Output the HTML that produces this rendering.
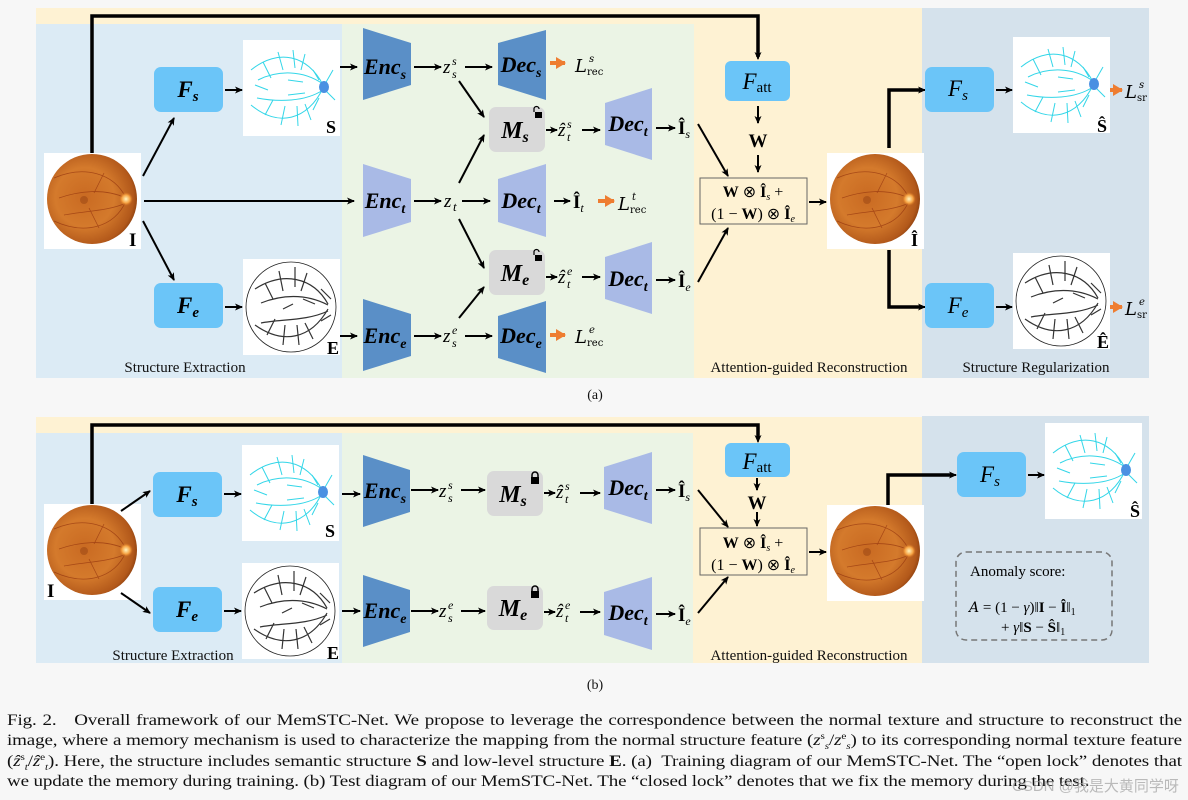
<!DOCTYPE html>
<html><head><meta charset="utf-8">
<style>
html,body{margin:0;padding:0;background:#f7f7f7;}
body{width:1188px;height:800px;overflow:hidden;position:relative;}
svg{position:absolute;left:0;top:0;}
.cap{position:absolute;left:7px;top:711px;width:946px;transform:scale(1.242,1);transform-origin:0 0;font-family:"Liberation Serif",serif;font-size:15.3px;line-height:20.3px;text-align:justify;text-align-last:left;color:#111;letter-spacing:-0.1px;}
.cap sup,.cap sub{font-size:9px;line-height:0;}
.wm{position:absolute;left:1012px;top:775px;font-family:"Liberation Sans","Noto Sans CJK SC",sans-serif;font-size:15px;color:rgba(160,160,160,0.7);}
</style></head><body>
<svg width="1188" height="800" viewBox="0 0 1188 800" font-family="Liberation Serif, serif">
<defs>
<marker id="ah" markerWidth="8" markerHeight="8" refX="7" refY="4" orient="auto" markerUnits="userSpaceOnUse"><path d="M0,0.5 L8,4 L0,7.5 L2,4 Z" fill="#000"/></marker>
<marker id="ao" markerWidth="10" markerHeight="12" refX="9" refY="6" orient="auto" markerUnits="userSpaceOnUse"><path d="M0,0 L10,6 L0,12 Z" fill="#ee7d31"/></marker>
<radialGradient id="fg" cx="0.42" cy="0.48" r="0.6">
<stop offset="0" stop-color="#c96a22"/><stop offset="0.55" stop-color="#d47a2c"/><stop offset="0.9" stop-color="#b2581a"/><stop offset="1" stop-color="#8a3e0e"/></radialGradient>
<radialGradient id="od" cx="0.5" cy="0.5" r="0.5"><stop offset="0" stop-color="#fff6c0"/><stop offset="0.6" stop-color="#f5a040"/><stop offset="1" stop-color="#d07020" stop-opacity="0"/></radialGradient>
<g id="fundus">
<rect x="0" y="0" width="97" height="96" fill="#fff"/>
<circle cx="48" cy="46" r="45" fill="url(#fg)"/>
<g stroke="#8a2a0a" stroke-width="0.8" fill="none" opacity="0.6">
<path d="M82,45 C70,20 40,12 10,25"/><path d="M82,48 C70,75 40,82 10,68"/><path d="M82,45 C60,35 35,38 15,45"/><path d="M82,50 C65,58 40,58 20,62"/><path d="M60,20 L50,40"/><path d="M55,75 L45,55"/></g>
<circle cx="40" cy="47" r="4" fill="#8a3a10" opacity="0.4"/>
<circle cx="82" cy="46" r="7" fill="url(#od)"/>
</g>
<g id="vess">
<rect x="0" y="0" width="97" height="96" fill="#fff"/>
<g stroke="#33d6e8" stroke-width="1" fill="none">
<path d="M80,45 C65,15 35,8 8,30"/><path d="M80,48 C65,80 35,88 8,65"/><path d="M80,44 C60,30 35,30 15,40"/><path d="M80,50 C62,62 35,62 14,58"/>
<path d="M20,22 L28,38 M35,12 L40,30 M50,10 L52,28 M62,14 L58,30 M22,75 L30,60 M38,85 L42,66 M55,86 L54,66 M68,80 L62,64 M12,45 L25,50 M45,40 L60,42 M45,55 L62,53 M90,30 L82,44 M92,60 L82,50 M70,30 L76,40 M70,70 L76,58"/>
</g>
<ellipse cx="81" cy="47" rx="5" ry="6" fill="#4a90e2"/>
</g>
<g id="edge">
<rect x="0" y="0" width="97" height="96" fill="#fff"/>
<circle cx="48" cy="48" r="45" fill="none" stroke="#222" stroke-width="0.8"/>
<g stroke="#333" stroke-width="1.2" fill="none">
<path d="M85,45 C70,18 40,12 12,30"/><path d="M85,50 C68,80 40,86 12,66"/><path d="M85,46 C62,34 38,36 18,44"/><path d="M85,52 C64,62 38,60 18,64"/>
<path d="M22,24 L30,40 M36,12 L40,32 M52,8 L52,28 M64,14 L58,32 M24,76 L32,60 M40,86 L42,66 M56,86 L54,66 M70,80 L62,64 M40,50 L50,45 M60,40 L72,45 M78,30 L88,40 M78,62 L88,56"/></g>
</g>
</defs>

<rect x="36" y="8" width="886" height="370" fill="#fef2d3"/>
<rect x="36" y="24" width="306" height="354" fill="#dcebf5"/>
<rect x="342" y="24" width="352" height="354" fill="#ebf4e5"/>
<rect x="922" y="8" width="227" height="370" fill="#d5e2ec"/>

<polyline points="92,153 92,16 758,16 758,57" fill="none" stroke="#000" stroke-width="3.5"/>
<line x1="758" y1="50" x2="758" y2="59" stroke="#000" stroke-width="1.5" marker-end="url(#ah)"/>

<use href="#fundus" x="44" y="153"/>
<text x="129" y="246" font-size="19" font-weight="bold">I</text>

<rect x="154" y="67" width="69" height="45" rx="7" fill="#6bc5f8"/>
<text x="188" y="97" font-size="23" font-weight="bold" font-style="italic" text-anchor="middle">F<tspan font-size="15" dy="4">s</tspan></text>
<rect x="154" y="283" width="69" height="45" rx="7" fill="#6bc5f8"/>
<text x="188" y="313" font-size="23" font-weight="bold" font-style="italic" text-anchor="middle">F<tspan font-size="15" dy="4">e</tspan></text>

<use href="#vess" x="243" y="40"/>
<text x="326" y="133" font-size="18" font-weight="bold">S</text>
<use href="#edge" x="243" y="259"/>
<text x="327" y="354" font-size="18" font-weight="bold">E</text>

<g stroke="#000" stroke-width="2" fill="none">
<line x1="225" y1="90" x2="242" y2="90" marker-end="url(#ah)"/>
<line x1="225" y1="307" x2="242" y2="307" marker-end="url(#ah)"/>
<line x1="143" y1="176" x2="174" y2="118" marker-end="url(#ah)"/>
<line x1="143" y1="221" x2="174" y2="280" marker-end="url(#ah)"/>
<line x1="144" y1="201" x2="354" y2="201" marker-end="url(#ah)"/>
<line x1="340" y1="67" x2="357" y2="67" marker-end="url(#ah)"/>
<line x1="340" y1="336" x2="357" y2="336" marker-end="url(#ah)"/>
</g>

<polygon points="363,28 411,43 411,85 363,100" fill="#5a8fc7"/>
<polygon points="363,164 411,179 411,222 363,237" fill="#a9bae6"/>
<polygon points="363,299 411,314 411,356 363,371" fill="#5a8fc7"/>
<g font-size="22" font-weight="bold" font-style="italic" text-anchor="middle">
<text x="385" y="74">Enc<tspan font-size="14" dy="5">s</tspan></text>
<text x="385" y="208">Enc<tspan font-size="14" dy="5">t</tspan></text>
<text x="385" y="343">Enc<tspan font-size="14" dy="5">e</tspan></text>
</g>
<polygon points="498,43 546,30 546,100 498,85" fill="#5a8fc7"/>
<polygon points="498,179 546,164 546,237 498,222" fill="#a9bae6"/>
<polygon points="498,316 546,301 546,373 498,358" fill="#5a8fc7"/>
<polygon points="605,103 652,88 652,160 605,145" fill="#a9bae6"/>
<polygon points="605,257 652,242 652,314 605,299" fill="#a9bae6"/>
<g font-size="22" font-weight="bold" font-style="italic" text-anchor="middle">
<text x="521" y="72">Dec<tspan font-size="14" dy="5">s</tspan></text>
<text x="521" y="208">Dec<tspan font-size="14" dy="5">t</tspan></text>
<text x="521" y="343">Dec<tspan font-size="14" dy="5">e</tspan></text>
<text x="628" y="131">Dec<tspan font-size="14" dy="5">t</tspan></text>
<text x="628" y="286">Dec<tspan font-size="14" dy="5">t</tspan></text>
</g>
<rect x="489" y="107" width="56" height="45" rx="7" fill="#d9d9d9"/>
<rect x="489" y="250" width="56" height="45" rx="7" fill="#d9d9d9"/>
<g font-size="24" font-weight="bold" font-style="italic" text-anchor="middle">
<text x="515" y="138">M<tspan font-size="16" dy="4">s</tspan></text>
<text x="515" y="281">M<tspan font-size="16" dy="4">e</tspan></text>
</g>
<g fill="#000"><rect x="535" y="112" width="7" height="6"/><path d="M534,112 v-3 a2.5,2.5 0 0 1 5,0" fill="none" stroke="#000" stroke-width="1.2"/>
<rect x="535" y="255" width="7" height="6"/><path d="M534,255 v-3 a2.5,2.5 0 0 1 5,0" fill="none" stroke="#000" stroke-width="1.2"/></g>

<g font-style="italic">
<text x="443" y="73" font-size="19">z</text><text x="452" y="65" font-size="12">s</text><text x="452" y="78" font-size="12">s</text>
<text x="444" y="207" font-size="19">z</text><text x="453" y="211" font-size="13">t</text>
<text x="443" y="342" font-size="19">z</text><text x="452" y="334" font-size="12">e</text><text x="452" y="347" font-size="12">s</text>
<text x="558" y="136" font-size="19">ẑ</text><text x="567" y="128" font-size="12">s</text><text x="567" y="141" font-size="12">t</text>
<text x="558" y="283" font-size="19">ẑ</text><text x="567" y="275" font-size="12">e</text><text x="567" y="288" font-size="12">t</text>
</g>
<g stroke="#000" stroke-width="2" fill="none">
<line x1="414" y1="67" x2="441" y2="67" marker-end="url(#ah)"/>
<line x1="465" y1="67" x2="492" y2="67" marker-end="url(#ah)"/>
<line x1="414" y1="201" x2="441" y2="201" marker-end="url(#ah)"/>
<line x1="462" y1="201" x2="490" y2="201" marker-end="url(#ah)"/>
<line x1="414" y1="336" x2="441" y2="336" marker-end="url(#ah)"/>
<line x1="465" y1="336" x2="492" y2="336" marker-end="url(#ah)"/>
<line x1="459" y1="81" x2="484" y2="117" marker-end="url(#ah)"/>
<line x1="459" y1="183" x2="484" y2="135" marker-end="url(#ah)"/>
<line x1="459" y1="219" x2="484" y2="268" marker-end="url(#ah)"/>
<line x1="459" y1="318" x2="484" y2="287" marker-end="url(#ah)"/>
<line x1="546" y1="130" x2="557" y2="130" marker-end="url(#ah)"/>
<line x1="582" y1="130" x2="600" y2="130" marker-end="url(#ah)"/>
<line x1="546" y1="277" x2="557" y2="277" marker-end="url(#ah)"/>
<line x1="582" y1="277" x2="600" y2="277" marker-end="url(#ah)"/>
<line x1="554" y1="201" x2="570" y2="201" marker-end="url(#ah)"/>
<line x1="656" y1="128" x2="675" y2="128" marker-end="url(#ah)"/>
<line x1="656" y1="280" x2="675" y2="280" marker-end="url(#ah)"/>
<line x1="698" y1="124" x2="728" y2="176" marker-end="url(#ah)"/>
<line x1="698" y1="282" x2="728" y2="228" marker-end="url(#ah)"/>
<line x1="758" y1="106" x2="758" y2="123" marker-end="url(#ah)"/>
<line x1="758" y1="155" x2="758" y2="172" marker-end="url(#ah)"/>
<line x1="809" y1="202" x2="826" y2="202" marker-end="url(#ah)"/>
<line x1="996" y1="90" x2="1012" y2="90" marker-end="url(#ah)"/>
<line x1="996" y1="307" x2="1012" y2="307" marker-end="url(#ah)"/>
</g>
<g stroke="#ee7d31" stroke-width="4">
<line x1="550" y1="63" x2="565" y2="63" marker-end="url(#ao)"/>
<line x1="550" y1="335" x2="565" y2="335" marker-end="url(#ao)"/>
<line x1="598" y1="201" x2="614" y2="201" marker-end="url(#ao)"/>
<line x1="1109" y1="90" x2="1122" y2="90" marker-end="url(#ao)"/>
<line x1="1109" y1="307" x2="1122" y2="307" marker-end="url(#ao)"/>
</g>
<g font-family="DejaVu Serif, serif" font-style="italic">
<text x="575" y="72" font-size="18">L</text><text x="589" y="62" font-size="10">s</text><text x="587" y="75" font-size="10" font-style="normal">rec</text>
<text x="575" y="343" font-size="18">L</text><text x="589" y="333" font-size="10">e</text><text x="587" y="346" font-size="10" font-style="normal">rec</text>
<text x="618" y="210" font-size="18">L</text><text x="632" y="200" font-size="10">t</text><text x="630" y="213" font-size="10" font-style="normal">rec</text>
<text x="1125" y="98" font-size="18">L</text><text x="1139" y="88" font-size="10">s</text><text x="1137" y="101" font-size="10" font-style="normal">sr</text>
<text x="1125" y="315" font-size="18">L</text><text x="1139" y="305" font-size="10">e</text><text x="1137" y="318" font-size="10" font-style="normal">sr</text>
</g>
<g font-size="19" font-weight="bold">
<text x="573" y="208">Î<tspan font-size="12" font-weight="normal" font-style="italic" dy="4">t</tspan></text>
<text x="678" y="134">Î<tspan font-size="12" font-weight="normal" font-style="italic" dy="4">s</tspan></text>
<text x="678" y="287">Î<tspan font-size="12" font-weight="normal" font-style="italic" dy="4">e</tspan></text>
</g>
<rect x="725" y="61" width="65" height="40" rx="6" fill="#6bc5f8"/>
<text x="757" y="89" font-size="23" font-style="italic" text-anchor="middle">F<tspan font-size="15" font-style="normal" dy="3">att</tspan></text>
<text x="758" y="147" font-size="19" font-weight="bold" text-anchor="middle">W</text>
<rect x="700" y="178" width="107" height="46" fill="none" stroke="#666" stroke-width="1"/>
<text x="753" y="197" font-size="16" text-anchor="middle"><tspan font-weight="bold">W</tspan> ⊗ <tspan font-weight="bold">Î</tspan><tspan font-size="10" font-style="italic" dy="3">s</tspan><tspan dy="-3"> +</tspan></text>
<text x="753" y="219" font-size="16" text-anchor="middle">(1 − <tspan font-weight="bold">W</tspan>) ⊗ <tspan font-weight="bold">Î</tspan><tspan font-size="10" font-style="italic" dy="3">e</tspan></text>

<use href="#fundus" x="827" y="153"/>
<text x="911" y="246" font-size="18" font-weight="bold">Î</text>
<polyline points="889,148 889,90 922,90" fill="none" stroke="#000" stroke-width="3.5"/>
<line x1="918" y1="90" x2="925" y2="90" stroke="#000" stroke-width="2" marker-end="url(#ah)"/>
<polyline points="889,250 889,307 922,307" fill="none" stroke="#000" stroke-width="3.5"/>
<line x1="918" y1="307" x2="925" y2="307" stroke="#000" stroke-width="2" marker-end="url(#ah)"/>

<rect x="925" y="67" width="69" height="45" rx="7" fill="#6bc5f8"/>
<text x="958" y="96" font-size="23" font-style="italic" text-anchor="middle">F<tspan font-size="15" dy="4">s</tspan></text>
<rect x="925" y="283" width="69" height="45" rx="7" fill="#6bc5f8"/>
<text x="958" y="313" font-size="23" font-style="italic" text-anchor="middle">F<tspan font-size="15" dy="4">e</tspan></text>
<use href="#vess" x="1013" y="37"/>
<text x="1097" y="132" font-size="18" font-weight="bold">Ŝ</text>
<use href="#edge" x="1013" y="253"/>
<text x="1097" y="348" font-size="18" font-weight="bold">Ê</text>

<g font-size="15" fill="#111" text-anchor="middle">
<text x="185" y="372">Structure Extraction</text>
<text x="809" y="372">Attention-guided Reconstruction</text>
<text x="1036" y="372">Structure Regularization</text>
<text x="595" y="399" font-size="14">(a)</text>
</g>

<rect x="36" y="417" width="886" height="246" fill="#fef2d3"/>
<rect x="36" y="433" width="306" height="230" fill="#dcebf5"/>
<rect x="342" y="433" width="351" height="230" fill="#ebf4e5"/>
<rect x="922" y="416" width="227" height="247" fill="#d5e2ec"/>

<polyline points="92,504 92,425 758,425 758,438" fill="none" stroke="#000" stroke-width="3.5"/>
<line x1="758" y1="432" x2="758" y2="442" stroke="#000" stroke-width="1.5" marker-end="url(#ah)"/>
<use href="#fundus" x="44" y="504"/>
<text x="47" y="597" font-size="19" font-weight="bold">I</text>

<rect x="153" y="472" width="69" height="45" rx="7" fill="#6bc5f8"/>
<text x="187" y="502" font-size="23" font-weight="bold" font-style="italic" text-anchor="middle">F<tspan font-size="15" dy="4">s</tspan></text>
<rect x="153" y="587" width="69" height="45" rx="7" fill="#6bc5f8"/>
<text x="187" y="617" font-size="23" font-weight="bold" font-style="italic" text-anchor="middle">F<tspan font-size="15" dy="4">e</tspan></text>
<use href="#vess" x="242" y="445"/>
<text x="325" y="537" font-size="18" font-weight="bold">S</text>
<use href="#edge" x="242" y="563"/>
<text x="327" y="659" font-size="18" font-weight="bold">E</text>

<polygon points="363,455 410,470 410,512 363,527" fill="#5a8fc7"/>
<polygon points="363,575 410,590 410,632 363,647" fill="#5a8fc7"/>
<g font-size="22" font-weight="bold" font-style="italic" text-anchor="middle">
<text x="385" y="498">Enc<tspan font-size="14" dy="5">s</tspan></text>
<text x="385" y="618">Enc<tspan font-size="14" dy="5">e</tspan></text>
</g>
<rect x="487" y="471" width="56" height="45" rx="7" fill="#d9d9d9"/>
<rect x="487" y="586" width="56" height="44" rx="7" fill="#d9d9d9"/>
<g font-size="24" font-weight="bold" font-style="italic" text-anchor="middle">
<text x="513" y="502">M<tspan font-size="16" dy="4">s</tspan></text>
<text x="513" y="616">M<tspan font-size="16" dy="4">e</tspan></text>
</g>
<g fill="#000"><rect x="531" y="477" width="8" height="7"/><path d="M532,477 v-2 a3,3 0 0 1 6,0 v2" fill="none" stroke="#000" stroke-width="1.5"/>
<rect x="531" y="591" width="8" height="7"/><path d="M532,591 v-2 a3,3 0 0 1 6,0 v2" fill="none" stroke="#000" stroke-width="1.5"/></g>
<polygon points="604,467 652,452 652,524 604,509" fill="#a9bae6"/>
<polygon points="604,592 652,577 652,650 604,635" fill="#a9bae6"/>
<g font-size="22" font-weight="bold" font-style="italic" text-anchor="middle">
<text x="628" y="495">Dec<tspan font-size="14" dy="5">t</tspan></text>
<text x="628" y="620">Dec<tspan font-size="14" dy="5">t</tspan></text>
</g>
<g font-style="italic">
<text x="439" y="497" font-size="19">z</text><text x="448" y="489" font-size="12">s</text><text x="448" y="502" font-size="12">s</text>
<text x="439" y="617" font-size="19">z</text><text x="448" y="609" font-size="12">e</text><text x="448" y="622" font-size="12">s</text>
<text x="556" y="498" font-size="19">ẑ</text><text x="565" y="490" font-size="12">s</text><text x="565" y="503" font-size="12">t</text>
<text x="556" y="617" font-size="19">ẑ</text><text x="565" y="609" font-size="12">e</text><text x="565" y="622" font-size="12">t</text>
</g>
<g font-size="19" font-weight="bold">
<text x="678" y="497">Î<tspan font-size="12" font-weight="normal" font-style="italic" dy="4">s</tspan></text>
<text x="678" y="621">Î<tspan font-size="12" font-weight="normal" font-style="italic" dy="4">e</tspan></text>
</g>
<g stroke="#000" stroke-width="2" fill="none">
<line x1="121" y1="511" x2="150" y2="491" marker-end="url(#ah)"/>
<line x1="121" y1="593" x2="150" y2="613" marker-end="url(#ah)"/>
<line x1="224" y1="494" x2="241" y2="494" marker-end="url(#ah)"/>
<line x1="224" y1="611" x2="241" y2="611" marker-end="url(#ah)"/>
<line x1="342" y1="494" x2="360" y2="494" marker-end="url(#ah)"/>
<line x1="342" y1="611" x2="360" y2="611" marker-end="url(#ah)"/>
<line x1="411" y1="490" x2="438" y2="490" marker-end="url(#ah)"/>
<line x1="461" y1="490" x2="485" y2="490" marker-end="url(#ah)"/>
<line x1="411" y1="611" x2="438" y2="611" marker-end="url(#ah)"/>
<line x1="461" y1="611" x2="485" y2="611" marker-end="url(#ah)"/>
<line x1="544" y1="493" x2="555" y2="493" marker-end="url(#ah)"/>
<line x1="580" y1="493" x2="600" y2="493" marker-end="url(#ah)"/>
<line x1="544" y1="612" x2="555" y2="612" marker-end="url(#ah)"/>
<line x1="580" y1="612" x2="600" y2="612" marker-end="url(#ah)"/>
<line x1="656" y1="490" x2="675" y2="490" marker-end="url(#ah)"/>
<line x1="656" y1="614" x2="675" y2="614" marker-end="url(#ah)"/>
<line x1="698" y1="490" x2="728" y2="527" marker-end="url(#ah)"/>
<line x1="698" y1="613" x2="728" y2="577" marker-end="url(#ah)"/>
<line x1="757" y1="478" x2="757" y2="490" marker-end="url(#ah)"/>
<line x1="757" y1="512" x2="757" y2="526" marker-end="url(#ah)"/>
<line x1="809" y1="552" x2="826" y2="552" marker-end="url(#ah)"/>
<line x1="1028" y1="475" x2="1044" y2="475" marker-end="url(#ah)"/>
</g>
<rect x="725" y="443" width="65" height="34" rx="6" fill="#6bc5f8"/>
<text x="757" y="469" font-size="23" font-style="italic" text-anchor="middle">F<tspan font-size="15" font-style="normal" dy="3">att</tspan></text>
<text x="757" y="509" font-size="19" font-weight="bold" text-anchor="middle">W</text>
<rect x="700" y="528" width="107" height="47" fill="none" stroke="#666" stroke-width="1"/>
<text x="753" y="548" font-size="16" text-anchor="middle"><tspan font-weight="bold">W</tspan> ⊗ <tspan font-weight="bold">Î</tspan><tspan font-size="10" font-style="italic" dy="3">s</tspan><tspan dy="-3"> +</tspan></text>
<text x="753" y="570" font-size="16" text-anchor="middle">(1 − <tspan font-weight="bold">W</tspan>) ⊗ <tspan font-weight="bold">Î</tspan><tspan font-size="10" font-style="italic" dy="3">e</tspan></text>
<use href="#fundus" x="827" y="505"/>
<polyline points="888,505 888,475 952,475" fill="none" stroke="#000" stroke-width="3.5"/>
<line x1="948" y1="475" x2="956" y2="475" stroke="#000" stroke-width="2" marker-end="url(#ah)"/>
<rect x="957" y="452" width="69" height="45" rx="7" fill="#6bc5f8"/>
<text x="990" y="482" font-size="23" font-style="italic" text-anchor="middle">F<tspan font-size="15" dy="4">s</tspan></text>
<use href="#vess" x="1045" y="423"/>
<text x="1130" y="517" font-size="18" font-weight="bold">Ŝ</text>

<rect x="956" y="552" width="156" height="88" rx="10" fill="none" stroke="#777" stroke-width="1.5" stroke-dasharray="6,4"/>
<text x="970" y="576" font-size="15">Anomaly score:</text>
<text x="969" y="612" font-size="15"><tspan font-family="DejaVu Serif, serif" font-style="italic" font-size="14">A</tspan> = (1 − <tspan font-style="italic">γ</tspan>)‖<tspan font-weight="bold">I</tspan> − <tspan font-weight="bold">Î</tspan>‖<tspan font-size="10" dy="3">1</tspan></text>
<text x="1001" y="632" font-size="15">+ <tspan font-style="italic">γ</tspan>‖<tspan font-weight="bold">S</tspan> − <tspan font-weight="bold">Ŝ</tspan>‖<tspan font-size="10" dy="3">1</tspan></text>

<g font-size="15" fill="#111" text-anchor="middle">
<text x="173" y="660">Structure Extraction</text>
<text x="809" y="660">Attention-guided Reconstruction</text>
<text x="595" y="689" font-size="14">(b)</text>
</g>
</svg>
<div class="cap">Fig. 2.&nbsp;&nbsp; Overall framework of our MemSTC-Net. We propose to leverage the correspondence between the normal texture and structure to reconstruct the image, where a memory mechanism is used to characterize the mapping from the normal structure feature (<i>z</i><sup>s</sup><sub><i>s</i></sub>/<i>z</i><sup>e</sup><sub><i>s</i></sub>) to its corresponding normal texture feature (<i>ẑ</i><sup>s</sup><sub><i>t</i></sub>/<i>ẑ</i><sup>e</sup><sub><i>t</i></sub>). Here, the structure includes semantic structure <b>S</b> and low-level structure <b>E</b>. (a)&nbsp; Training diagram of our MemSTC-Net. The “open lock” denotes that we update the memory during training. (b) Test diagram of our MemSTC-Net. The “closed lock” denotes that we fix the memory during the test.</div>
<div class="wm">CSDN @我是大黄同学呀</div>
</body></html>
